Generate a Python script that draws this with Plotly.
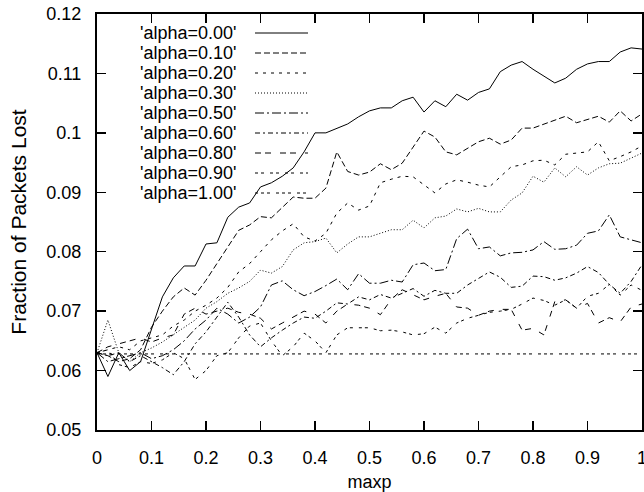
import plotly.graph_objects as go

# maxp values (x)
maxp = [0.00, 0.02, 0.04, 0.06, 0.08, 0.10, 0.12, 0.14, 0.16, 0.18,
        0.20, 0.22, 0.24, 0.26, 0.28, 0.30, 0.32, 0.34, 0.36, 0.38,
        0.40, 0.42, 0.44, 0.46, 0.48, 0.50, 0.52, 0.54, 0.56, 0.58,
        0.60, 0.62, 0.64, 0.66, 0.68, 0.70, 0.72, 0.74, 0.76, 0.78,
        0.80, 0.82, 0.84, 0.86, 0.88, 0.90, 0.92, 0.94, 0.96, 0.98, 1.00]

alpha_000 = [0.0630, 0.0590, 0.0630, 0.0600, 0.0615, 0.0670, 0.0724, 0.0756, 0.0776, 0.0776,
             0.0813, 0.0815, 0.0858, 0.0875, 0.0882, 0.0909, 0.0916, 0.0927, 0.0941, 0.0968,
             0.1000, 0.1000, 0.1008, 0.1015, 0.1027, 0.1037, 0.1042, 0.1042, 0.1054, 0.1060,
             0.1035, 0.1054, 0.1044, 0.1065, 0.1055, 0.1068, 0.1074, 0.1103, 0.1114, 0.1120,
             0.1107, 0.1096, 0.1084, 0.1092, 0.1107, 0.1116, 0.1120, 0.1120, 0.1136, 0.1143, 0.1141]

alpha_010 = [0.0630, 0.0625, 0.0615, 0.0620, 0.0635, 0.0673, 0.0700, 0.0724, 0.0739, 0.0727,
             0.0752, 0.0780, 0.0810, 0.0836, 0.0845, 0.0859, 0.0857, 0.0875, 0.0892, 0.0890,
             0.0890, 0.0907, 0.0968, 0.0935, 0.0929, 0.0934, 0.0948, 0.0938, 0.0949, 0.0976,
             0.1003, 0.0993, 0.0968, 0.0963, 0.0974, 0.0985, 0.0991, 0.0981, 0.0988, 0.1008,
             0.1008, 0.1015, 0.1022, 0.1028, 0.1017, 0.1022, 0.1028, 0.1018, 0.1037, 0.1020, 0.1032]

alpha_020 = [0.0630, 0.0635, 0.0640, 0.0635, 0.0650, 0.0655, 0.0660, 0.0675, 0.0685, 0.0700,
             0.0710, 0.0722, 0.0740, 0.0766, 0.0780, 0.0800, 0.0820, 0.0835, 0.0847, 0.0825,
             0.0818, 0.0831, 0.0865, 0.0882, 0.0870, 0.0877, 0.0916, 0.0922, 0.0927, 0.0926,
             0.0912, 0.0899, 0.0914, 0.0921, 0.0917, 0.0912, 0.0909, 0.0926, 0.0943, 0.0946,
             0.0953, 0.0954, 0.0946, 0.0964, 0.0966, 0.0968, 0.0985, 0.0953, 0.0960, 0.0968, 0.0978]

alpha_030 = [0.0630, 0.0685, 0.0630, 0.0615, 0.0630, 0.0638, 0.0648, 0.0660, 0.0673, 0.0685,
             0.0705, 0.0716, 0.0730, 0.0739, 0.0750, 0.0769, 0.0764, 0.0775, 0.0803, 0.0815,
             0.0817, 0.0823, 0.0798, 0.0813, 0.0825, 0.0825, 0.0831, 0.0837, 0.0837, 0.0853,
             0.0840, 0.0857, 0.0860, 0.0872, 0.0867, 0.0873, 0.0867, 0.0867, 0.0887, 0.0899,
             0.0927, 0.0917, 0.0941, 0.0926, 0.0943, 0.0929, 0.0941, 0.0948, 0.0949, 0.0958, 0.0966]

alpha_050 = [0.0630, 0.0615, 0.0620, 0.0625, 0.0630, 0.0620, 0.0625, 0.0635, 0.0650, 0.0670,
             0.0685, 0.0705, 0.0695, 0.0680, 0.0690, 0.0707, 0.0744, 0.0751, 0.0736, 0.0726,
             0.0733, 0.0743, 0.0754, 0.0736, 0.0763, 0.0747, 0.0747, 0.0752, 0.0749, 0.0778,
             0.0781, 0.0768, 0.0770, 0.0822, 0.0838, 0.0805, 0.0808, 0.0793, 0.0798, 0.0799,
             0.0803, 0.0817, 0.0804, 0.0805, 0.0811, 0.0831, 0.0835, 0.0862, 0.0825, 0.0820, 0.0815]

alpha_060 = [0.0630, 0.0625, 0.0630, 0.0615, 0.0625, 0.0615, 0.0605, 0.0593, 0.0615, 0.0645,
             0.0665, 0.0690, 0.0715, 0.0690, 0.0660, 0.0640, 0.0655, 0.0668, 0.0680, 0.0690,
             0.0688, 0.0700, 0.0714, 0.0712, 0.0724, 0.0719, 0.0728, 0.0722, 0.0730, 0.0738,
             0.0725, 0.0735, 0.0730, 0.0730, 0.0744, 0.0755, 0.0766, 0.0757, 0.0740, 0.0742,
             0.0759, 0.0758, 0.0752, 0.0756, 0.0764, 0.0775, 0.0765, 0.0745, 0.0730, 0.0750, 0.0778]

alpha_080 = [0.0630, 0.0640, 0.0645, 0.0650, 0.0655, 0.0648, 0.0655, 0.0660, 0.0695, 0.0705,
             0.0695, 0.0700, 0.0705, 0.0698, 0.0695, 0.0688, 0.0670, 0.0680, 0.0690, 0.0700,
             0.0695, 0.0680, 0.0700, 0.0712, 0.0710, 0.0705, 0.0694, 0.0720, 0.0736, 0.0728,
             0.0719, 0.0725, 0.0730, 0.0707, 0.0705, 0.0693, 0.0700, 0.0703, 0.0703, 0.0668,
             0.0671, 0.0660, 0.0716, 0.0719, 0.0705, 0.0713, 0.0680, 0.0689, 0.0682, 0.0707, 0.0712]

alpha_090 = [0.0630, 0.0635, 0.0610, 0.0605, 0.0615, 0.0612, 0.0618, 0.0630, 0.0620, 0.0585,
             0.0600, 0.0625, 0.0630, 0.0655, 0.0675, 0.0680, 0.0650, 0.0625, 0.0640, 0.0663,
             0.0650, 0.0630, 0.0660, 0.0672, 0.0672, 0.0672, 0.0667, 0.0668, 0.0665, 0.0660,
             0.0662, 0.0673, 0.0663, 0.0680, 0.0688, 0.0693, 0.0698, 0.0700, 0.0703, 0.0712,
             0.0722, 0.0718, 0.0710, 0.0719, 0.0705, 0.0725, 0.0730, 0.0745, 0.0727, 0.0744, 0.0735]

alpha_100 = [0.0628, 0.0628, 0.0628, 0.0628, 0.0628, 0.0628, 0.0628, 0.0628, 0.0628, 0.0628,
             0.0628, 0.0628, 0.0628, 0.0628, 0.0628, 0.0628, 0.0628, 0.0628, 0.0628, 0.0628,
             0.0628, 0.0628, 0.0628, 0.0628, 0.0628, 0.0628, 0.0628, 0.0628, 0.0628, 0.0628,
             0.0628, 0.0628, 0.0628, 0.0628, 0.0628, 0.0628, 0.0628, 0.0628, 0.0628, 0.0628,
             0.0628, 0.0628, 0.0628, 0.0628, 0.0628, 0.0628, 0.0628, 0.0628, 0.0628, 0.0628, 0.0628]

series_names = ["'alpha=0.00'", "'alpha=0.10'", "'alpha=0.20'", "'alpha=0.30'",
                "'alpha=0.50'", "'alpha=0.60'", "'alpha=0.80'", "'alpha=0.90'",
                "'alpha=1.00'"]
series_values = [alpha_000, alpha_010, alpha_020, alpha_030, alpha_050,
                 alpha_060, alpha_080, alpha_090, alpha_100]

# gnuplot-like monochrome dash patterns
dashes = ["solid", "6px,3px", "3px,5px", "1px,2px", "9px,3px,2px,3px",
          "5px,3px,2px,3px", "6px,4px,6px,9px", "3px,3px,3px,6px",
          "3px,3px,3px,3px,3px,6px"]

FONT = "Liberation Sans, Arial, sans-serif"

fig = go.Figure()
for name, vals, dash in zip(series_names, series_values, dashes):
    fig.add_trace(go.Scatter(x=maxp, y=vals, mode="lines", name=name,
                             line=dict(color="black", width=1, dash=dash),
                             showlegend=False, hoverinfo="skip"))

# gnuplot-style key: text right-aligned, sample line to its right
W, H = 644, 492
ml, mr, mt, mb = 97, 2, 14, 62
pw, ph = W - ml - mr, H - mt - mb
text_right_px = 238
line_x0_px, line_x1_px = 255, 308
row0_px, row_step_px = 33, 20
for i, (name, dash) in enumerate(zip(series_names, dashes)):
    ypx = row0_px + i * row_step_px
    yp = (H - mb - ypx) / ph
    fig.add_annotation(x=(text_right_px - ml) / pw, y=yp, xref="paper", yref="paper",
                       text=name, showarrow=False, xanchor="right", yanchor="middle",
                       font=dict(family=FONT, size=18, color="black"))
    fig.add_shape(type="line", xref="paper", yref="paper",
                  x0=(line_x0_px - ml) / pw, x1=(line_x1_px - ml) / pw, y0=yp, y1=yp,
                  line=dict(color="black", width=1, dash=dash))

axis_common = dict(showgrid=False, zeroline=False, showline=True, linecolor="black",
                   linewidth=2, mirror="ticks", ticks="inside", ticklen=9,
                   tickwidth=1.5, tickcolor="black", ticklabeloverflow="allow",
                   tickfont=dict(family=FONT, size=18, color="black"))

fig.update_layout(
    width=W, height=H,
    margin=dict(l=ml, r=mr, t=mt, b=mb, autoexpand=False),
    paper_bgcolor="white", plot_bgcolor="white",
    hovermode=False,
    xaxis=dict(range=[0, 1], dtick=0.1, tick0=0, ticklabelstandoff=10,
               title=dict(text="maxp", font=dict(family=FONT, size=18, color="black"),
                          standoff=12),
               **axis_common),
    yaxis=dict(range=[0.05, 0.12], dtick=0.01, tick0=0.05, ticklabelstandoff=10,
               title=dict(text="Fraction of Packets Lost",
                          font=dict(family=FONT, size=21, color="black"), standoff=14),
               **axis_common),
)

fig.write_html("out.html", config={"displayModeBar": False, "staticPlot": True},
               post_script="document.body.style.margin='0px';document.body.style.overflow='hidden';")
